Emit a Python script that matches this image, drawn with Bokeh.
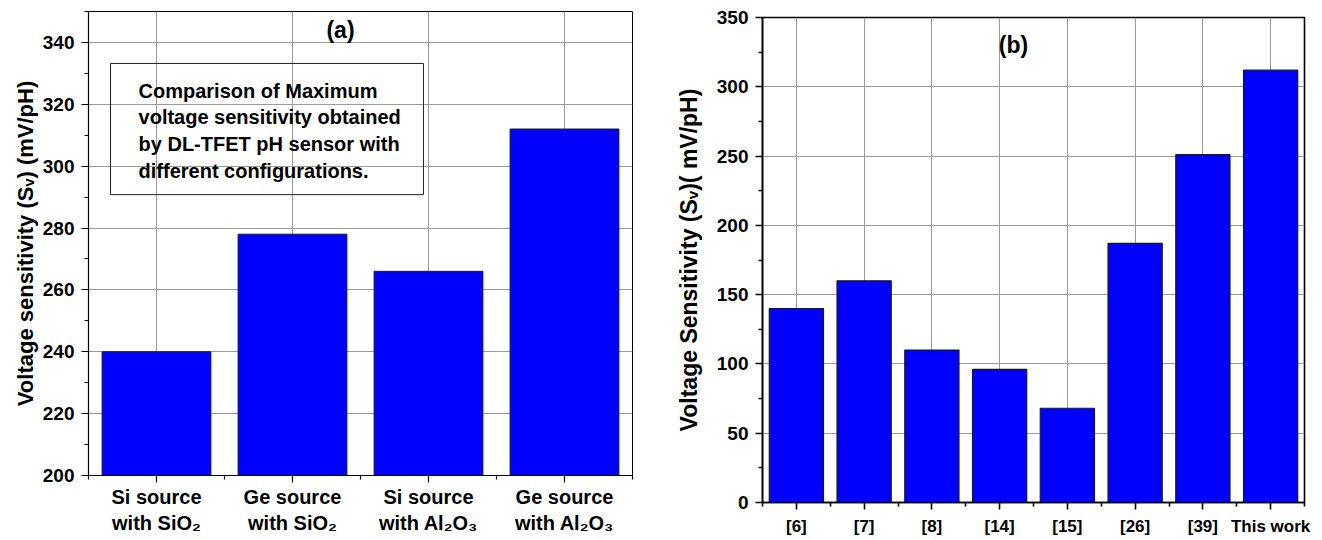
from bokeh.plotting import figure
from bokeh.models import FixedTicker, BoxAnnotation, Label, Range1d
from bokeh.layouts import row
from bokeh.embed import file_html
from bokeh.resources import INLINE

# ---------------- data ----------------
# Panel (a)
configs = ["Si source\nwith SiO\u2082", "Ge source\nwith SiO\u2082",
           "Si source\nwith Al\u2082O\u2083", "Ge source\nwith Al\u2082O\u2083"]
sens_a = [240, 278, 266, 312]
yticks_a = [200, 220, 240, 260, 280, 300, 320, 340]
yminor_a = [210, 230, 250, 270, 290, 310, 330, 350]

# Panel (b)
refs = ["[6]", "[7]", "[8]", "[14]", "[15]", "[26]", "[39]", "This work"]
sens_b = [140, 160, 110, 96, 68, 187, 251, 312]
yticks_b = [0, 50, 100, 150, 200, 250, 300, 350]
yminor_b = [25, 75, 125, 175, 225, 275, 325]

note_text = ("Comparison of Maximum\nvoltage sensitivity obtained\n"
             "by DL-TFET pH sensor with\ndifferent configurations.")

FONT = "Liberation Sans"
BAR = "#0000FF"
GRID = "#9a9a9a"


def style_axes(p, lw, tick_size, xlab_size, lab_size):
    for ax in (p.xaxis, p.yaxis):
        ax.axis_line_color = "black"
        ax.axis_line_width = lw
        ax.major_tick_line_color = "black"
        ax.major_tick_line_width = lw
        ax.minor_tick_line_color = "black"
        ax.minor_tick_line_width = lw
        ax.major_tick_in = 0
        ax.major_tick_out = 7
        ax.minor_tick_in = 0
        ax.minor_tick_out = 4
        ax.major_label_text_font = FONT
        ax.major_label_text_font_style = "bold"
        ax.major_label_text_color = "black"
        ax.axis_label_text_font = FONT
        ax.axis_label_text_font_style = "bold"
        ax.axis_label_text_color = "black"
        ax.axis_label_text_font_size = lab_size
    p.yaxis.major_label_text_font_size = tick_size
    p.xaxis.major_label_text_font_size = xlab_size
    p.grid.grid_line_color = GRID
    p.grid.grid_line_width = 1
    p.grid.grid_line_alpha = 1
    p.outline_line_color = "black"
    p.background_fill_color = "white"
    p.border_fill_color = "white"
    p.frame_align = False


# ---------------- panel (a) ----------------
xa = list(range(1, len(configs) + 1))
p1 = figure(width=648, height=540, x_range=Range1d(0.5, len(configs) + 0.5),
            y_range=Range1d(200, 350), output_backend="svg",
            toolbar_location=None, min_border_left=88, min_border_right=16,
            min_border_top=11, min_border_bottom=65)
p1.vbar(x=xa, top=sens_a, bottom=0, width=0.8, fill_color=BAR,
        line_color="#1a1a1a", line_width=1)
style_axes(p1, 1.2, "19px", "20px", "22px")
p1.outline_line_width = 1
p1.xaxis.ticker = FixedTicker(ticks=xa, minor_ticks=[x - 0.5 for x in xa] + [xa[-1] + 0.5])
p1.xaxis.major_label_overrides = {x: lab for x, lab in zip(xa, configs)}
p1.xaxis.major_label_text_line_height = 1.2
p1.xaxis.major_label_standoff = 3
p1.yaxis.ticker = FixedTicker(ticks=yticks_a, minor_ticks=yminor_a)
p1.yaxis.major_label_standoff = 7
p1.yaxis.axis_label = "Voltage sensitivity (S\u1d65) (mV/pH)"
p1.yaxis.axis_label_standoff = 2

p1.add_layout(BoxAnnotation(left=0.662, right=2.963, top=333.2, bottom=290.8,
                            fill_alpha=0, line_color="#222222", line_alpha=1,
                            line_width=1))
p1.add_layout(Label(x=0.868, y=328.0, text=note_text, text_font=FONT,
                    text_font_style="bold", text_font_size="20px",
                    text_color="black", text_baseline="top", text_align="left",
                    text_line_height=1.22))
p1.add_layout(Label(x=2.353, y=343.9, text="(a)", text_font=FONT,
                    text_font_style="bold", text_font_size="23px",
                    text_color="black", text_baseline="middle", text_align="center"))

# ---------------- panel (b) ----------------
xb = list(range(1, len(refs) + 1))
p2 = figure(width=664, height=540, x_range=Range1d(0.5, len(refs) + 0.5),
            y_range=Range1d(0, 350), output_backend="svg",
            toolbar_location=None, min_border_left=114, min_border_right=8,
            min_border_top=17, min_border_bottom=38)
p2.vbar(x=xb, top=sens_b, bottom=0, width=0.8, fill_color=BAR,
        line_color="#1a1a1a", line_width=1.2)
style_axes(p2, 1.6, "19px", "17px", "23px")
p2.outline_line_width = 1.6
p2.xaxis.ticker = FixedTicker(ticks=xb, minor_ticks=[x - 0.5 for x in xb] + [xb[-1] + 0.5])
p2.xaxis.major_label_overrides = {x: lab for x, lab in zip(xb, refs)}
p2.xaxis.major_label_standoff = 7
p2.yaxis.ticker = FixedTicker(ticks=yticks_b, minor_ticks=yminor_b)
p2.yaxis.major_label_standoff = 7
p2.yaxis.axis_label = "Voltage Sensitivity (S\u1d65)( mV/pH)"
p2.yaxis.axis_label_standoff = 12
p2.add_layout(Label(x=4.205, y=329.8, text="(b)", text_font=FONT,
                    text_font_style="bold", text_font_size="23px",
                    text_color="black", text_baseline="middle", text_align="center"))

layout = row(p1, p2)
open("out.html", "w").write(file_html(layout, INLINE))
